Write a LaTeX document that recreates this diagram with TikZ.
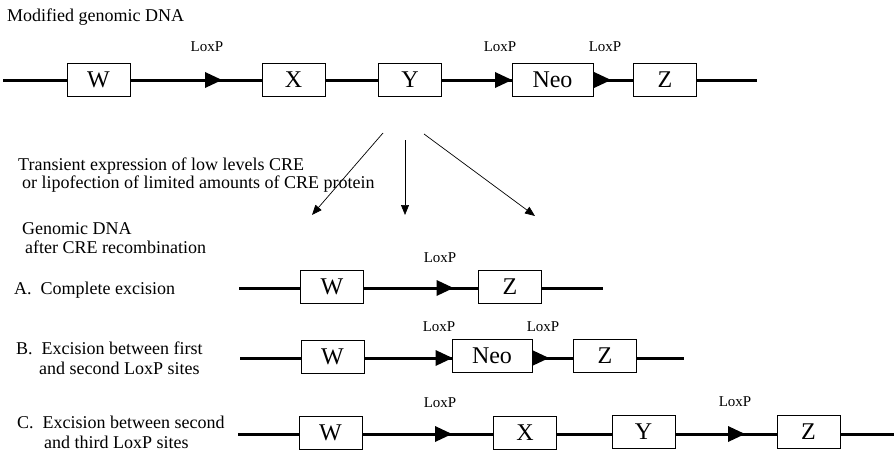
\documentclass[tikz,border=0pt]{standalone}
\usepackage{fontspec}
\setmainfont{Liberation Serif}
\usetikzlibrary{arrows.meta}
\tikzset{
  gene/.style={draw, line width=0.8pt, fill=white, minimum width=63pt, minimum height=33pt, inner sep=0pt, font=\fontsize{24}{26}\selectfont},
  dna/.style={line width=3pt},
  txt/.style={anchor=base west, inner sep=0pt, font=\fontsize{18}{20}\selectfont},
  loxlbl/.style={anchor=base, inner sep=0pt, font=\fontsize{15}{17}\selectfont},
  cre/.style={line width=0.7pt, -{Triangle[length=10pt,width=8pt]}},
  loxp/.pic={\fill (-8.5,-8) -- (8.5,0) -- (-8.5,8) -- cycle;}
}
\begin{document}
\begin{tikzpicture}[x=1pt,y=-1pt]
\useasboundingbox (0,0) rectangle (894,452);

% Title
\node[txt] (title) at (7,22) {Modified genomic DNA};

% Main row
\coordinate (m0) at (3,80);
\coordinate (m1) at (757,80);
\draw[dna] (m0) -- (m1);
\node[gene] (mW) at (98.5,80) {W};
\node[gene] (mX) at (293.5,80) {X};
\node[gene] (mY) at (410,80) {Y};
\node[gene, minimum width=81pt] (mN) at (552.5,80) {Neo};
\node[gene] (mZ) at (665,80) {Z};
\pic at (213.5,80) {loxp};
\pic at (503.5,80) {loxp};
\pic at (602.5,80) {loxp};
\node[loxlbl] (ml1) at (207,52) {LoxP};
\node[loxlbl] (ml2) at (500,52) {LoxP};
\node[loxlbl] (ml3) at (605,52) {LoxP};

% CRE text and arrows
\node[txt] (t1) at (18,170) {Transient expression of low levels CRE};
\node[txt] (t2) at (22,188) {or lipofection of limited amounts of CRE protein};
\coordinate (a1s) at (383,133);
\coordinate (a1e) at (312,215);
\coordinate (a2s) at (405,140);
\coordinate (a2e) at (405,215);
\coordinate (a3s) at (424,134);
\coordinate (a3e) at (535,216);
\draw[cre] (a1s) -- (a1e);
\draw[cre] (a2s) -- (a2e);
\draw[cre] (a3s) -- (a3e);

\node[txt] (g1) at (22,234) {Genomic DNA};
\node[txt] (g2) at (25,253) {after CRE recombination};

% Row A
\node[txt] (tA) at (14,294) {A.\ \ Complete excision};
\coordinate (A0) at (239,288);
\coordinate (A1) at (603,288);
\draw[dna] (A0) -- (A1);
\node[gene] (AW) at (332,287) {W};
\node[gene] (AZ) at (510,287) {Z};
\pic at (445,288) {loxp};
\node[loxlbl] (Al) at (440,262) {LoxP};

% Row B
\node[txt] (tB1) at (16,354) {B.\ \ Excision between first};
\node[txt] (tB2) at (39,374) {and second LoxP sites};
\coordinate (B0) at (240,358);
\coordinate (B1) at (684,358);
\draw[dna] (B0) -- (B1);
\node[gene] (BW) at (332.5,357) {W};
\node[gene, minimum width=80pt] (BN) at (492,356) {Neo};
\node[gene] (BZ) at (605,356) {Z};
\pic at (444,358) {loxp};
\pic at (540.5,358) {loxp};
\node[loxlbl] (Bl1) at (439,331) {LoxP};
\node[loxlbl] (Bl2) at (543,331) {LoxP};

% Row C
\node[txt] (tC1) at (17,428) {C.\ \ Excision between second};
\node[txt] (tC2) at (44,448) {and third LoxP sites};
\coordinate (C0) at (238,434);
\coordinate (C1) at (894,434);
\draw[dna] (C0) -- (C1);
\node[gene] (CW) at (330.5,433) {W};
\node[gene] (CX) at (525,433) {X};
\node[gene] (CY) at (643.5,432) {Y};
\node[gene] (CZ) at (808.5,432) {Z};
\pic at (443.5,434) {loxp};
\pic at (736.5,434) {loxp};
\node[loxlbl] (Cl1) at (440,407) {LoxP};
\node[loxlbl] (Cl2) at (735,406) {LoxP};
\end{tikzpicture}
\end{document}
